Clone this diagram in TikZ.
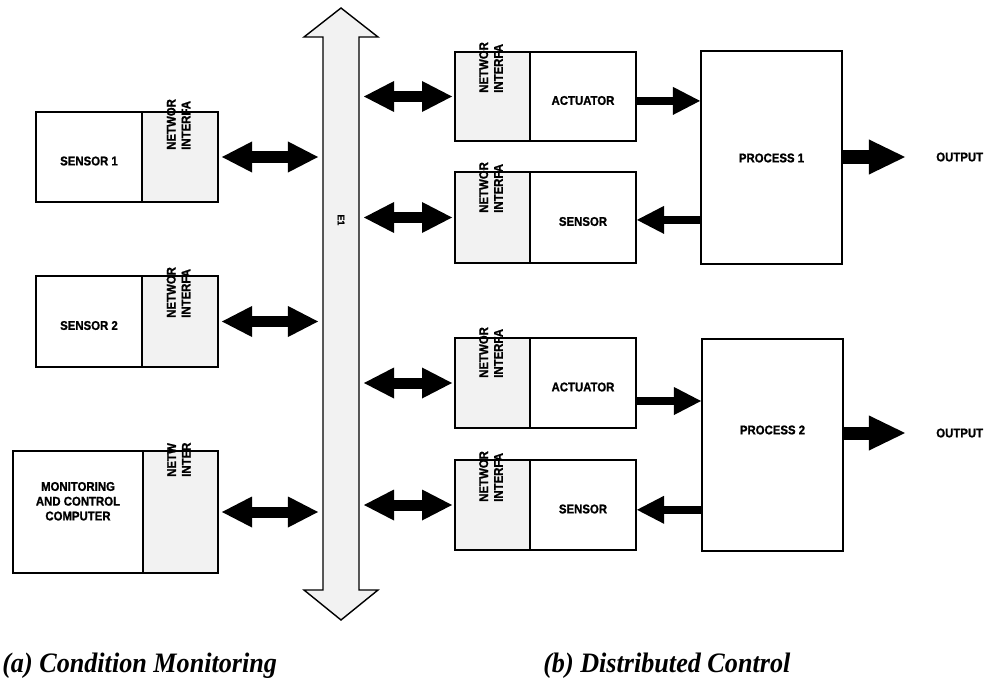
\documentclass[tikz,border=0pt]{standalone}
\usepackage{fontspec}
\setmainfont{Liberation Serif}
\newfontfamily\boxfont[FakeStretch=0.9,FakeBold=1.2]{Liberation Sans Bold}
\newfontfamily\capfont[FakeStretch=0.93]{Liberation Serif}
\usetikzlibrary{arrows.meta}
\definecolor{nigray}{HTML}{F2F2F2}

\tikzset{
  unit/.style={draw,line width=1.4pt,fill=white,inner sep=0pt,align=center,
    text height=12pt,font=\boxfont\fontsize{9}{10.5}\selectfont},
  niunit/.style={unit,fill=nigray},
  procunit/.style={draw,line width=1.4pt,fill=white,inner sep=0pt,
    minimum width=3.525cm,minimum height=5.3cm},
  lbl/.style={inner sep=0pt,font=\boxfont\fontsize{9}{10.5}\selectfont},
  nitext/.style={lbl,rotate=90,anchor=west,align=left},
  twoway/.style={line width=0.275cm,<->,>={Triangle[length=0.75cm,width=0.775cm,line width=0pt]}},
  flow/.style={line width=0.2cm,->,>={Triangle[length=0.675cm,width=0.7cm,line width=0pt]}},
  outflow/.style={line width=0.325cm,->,>={Triangle[length=0.9cm,width=0.875cm,line width=0pt]}},
  caption/.style={inner sep=0pt,anchor=base west,font=\capfont\bfseries\itshape\fontsize{20}{24}\selectfont}
}

\begin{document}
\begin{tikzpicture}[x=0.025cm,y=-0.025cm]
\useasboundingbox (0,0) rectangle (986,683);

\filldraw[fill=nigray,line width=1pt] (323,590) -- (323,37) -- (304,37) -- (341,8) -- (378,37) -- (359,37)
    -- (359,590) -- (378,590) -- (341,620) -- (304,590) -- cycle;
\coordinate (busL) at (323,300);
\coordinate (busR) at (359,300);
\node[lbl,rotate=-90,font=\boxfont\fontsize{7}{8}\selectfont] (bus) at (341,220) {E1};

\node[unit,minimum width=2.65cm,minimum height=2.25cm] (sen1) at (89,157) {SENSOR 1};
\node[niunit,minimum width=1.9cm,minimum height=2.25cm] (sen1ni) at (180,157) {};
\node[nitext] (sen1nt) at (178.5,150) {NETWOR\\INTERFA};

\node[unit,minimum width=2.65cm,minimum height=2.275cm] (sen2) at (89,321.5) {SENSOR 2};
\node[niunit,minimum width=1.9cm,minimum height=2.275cm] (sen2ni) at (180,321.5) {};
\node[nitext] (sen2nt) at (178.5,318) {NETWOR\\INTERFA};

\node[unit,minimum width=3.25cm,minimum height=3.05cm] (comp) at (78,512) {MONITORING\\AND CONTROL\\COMPUTER};
\node[niunit,minimum width=1.875cm,minimum height=3.05cm] (compni) at (180.5,512) {};
\node[nitext] (compnt) at (179,477) {NETW\\INTER};

\node[niunit,minimum width=1.875cm,minimum height=2.225cm] (act1ni) at (492.5,96.5) {};
\node[unit,minimum width=2.65cm,minimum height=2.225cm] (act1) at (583,96.5) {ACTUATOR};
\node[nitext] (act1nt) at (491,93) {NETWOR\\INTERFA};

\node[niunit,minimum width=1.875cm,minimum height=2.275cm] (snr1ni) at (492.5,217.5) {};
\node[unit,minimum width=2.65cm,minimum height=2.275cm] (snr1) at (583,217.5) {SENSOR};
\node[nitext] (snr1nt) at (491,213) {NETWOR\\INTERFA};

\node[niunit,minimum width=1.875cm,minimum height=2.25cm] (act2ni) at (492.5,383) {};
\node[unit,minimum width=2.65cm,minimum height=2.25cm] (act2) at (583,383) {ACTUATOR};
\node[nitext] (act2nt) at (491,378) {NETWOR\\INTERFA};

\node[niunit,minimum width=1.875cm,minimum height=2.25cm] (snr2ni) at (492.5,505) {};
\node[unit,minimum width=2.65cm,minimum height=2.25cm] (snr2) at (583,505) {SENSOR};
\node[nitext] (snr2nt) at (491,502) {NETWOR\\INTERFA};

\node[procunit] (proc1) at (771.5,157.5) {};
\node[lbl] (proc1txt) at (771.5,158) {PROCESS 1};
\node[procunit] (proc2) at (772.5,445) {};
\node[lbl] (proc2txt) at (772.5,430) {PROCESS 2};

\node[lbl,anchor=west] (out1) at (936,157) {OUTPUT};
\node[lbl,anchor=west] (out2) at (936,433) {OUTPUT};

\draw[twoway,shorten <=0.075cm,shorten >=0.125cm] (sen1ni.east) -- (sen1ni.east -| busL);
\draw[twoway,shorten <=0.075cm,shorten >=0.125cm] (sen2ni.east) -- (sen2ni.east -| busL);
\draw[twoway,shorten <=0.075cm,shorten >=0.125cm] (compni.east) -- (compni.east -| busL);
\draw[twoway,shorten <=0.125cm,shorten >=0.05cm] (act1ni.west -| busR) -- (act1ni.west);
\draw[twoway,shorten <=0.125cm,shorten >=0.05cm] (snr1ni.west -| busR) -- (snr1ni.west);
\draw[twoway,shorten <=0.125cm,shorten >=0.05cm] (act2ni.west -| busR) -- (act2ni.west);
\draw[twoway,shorten <=0.125cm,shorten >=0.05cm] (snr2ni.west -| busR) -- (snr2ni.west);

\draw[flow] ([yshift=-0.11cm]act1.east) -- ([yshift=-0.11cm]act1.east -| proc1.west);
\draw[flow] ([yshift=-0.06cm]snr1.east -| proc1.west) -- ([yshift=-0.06cm]snr1.east);
\draw[flow] ([yshift=-0.45cm]act2.east) -- ([yshift=-0.45cm]act2.east -| proc2.west);
\draw[flow] ([yshift=-0.12cm]snr2.east -| proc2.west) -- ([yshift=-0.12cm]snr2.east);

\draw[outflow,shorten >=0.775cm] (out1.west -| proc1.east) -- (out1.west);
\draw[outflow,shorten >=0.775cm] (out2.west -| proc2.east) -- (out2.west);

\node[caption] (capa) at (2,672) {(a) Condition Monitoring};
\node[caption] (capb) at (543,672) {(b) Distributed Control};
\end{tikzpicture}
\end{document}
